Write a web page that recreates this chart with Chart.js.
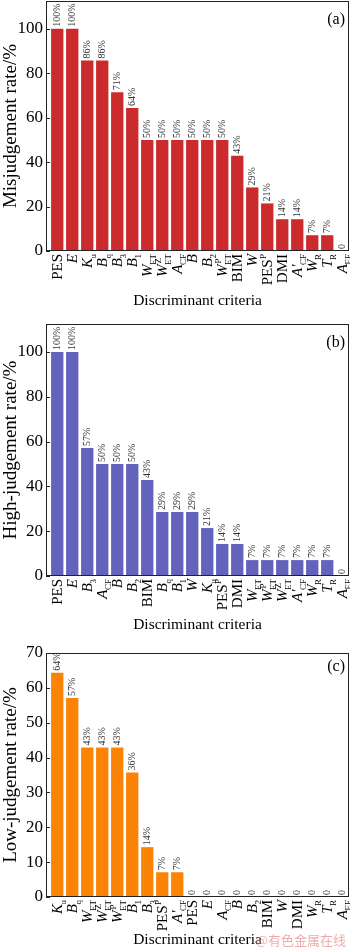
<!DOCTYPE html>
<html>
<head>
<meta charset="utf-8">
<script src="https://cdn.jsdelivr.net/npm/chart.js@4.4.1/dist/chart.umd.min.js"></script>
<style>
html, body { margin: 0; padding: 0; background: #fff; }
#wrap { position: relative; width: 350px; height: 950px; }
#wrap canvas { position: absolute; left: 0; top: 0; }
</style>
</head>
<body>
<div id="wrap">
  <canvas id="chartA" width="350" height="950"></canvas>
  <canvas id="chartB" width="350" height="950"></canvas>
  <canvas id="chartC" width="350" height="950"></canvas>
</div>
<script>
var SERIF = '"Liberation Serif", "Times New Roman", serif';

// (a) misjudgement
var misCats = ['PES', 'E', 'K_u', 'B_q', 'B_3', 'B_1', 'W_ET', 'W^Z_ET', 'A_CF', 'B', 'B_2', 'W^P_ET',
               'BIM', 'W', 'PES^P', 'DMI', "A'_CF", 'W_R', 'T_R', 'A_EF'];
var misVals = [100, 100, 85.7, 85.7, 71.4, 64.3, 50, 50, 50, 50, 50, 50, 42.9, 28.6, 21.4, 14.3, 14.3, 7.1, 7.1, 0];
var misTicks = [0, 20, 40, 60, 80, 100];

// (b) high-judgement
var highCats = ['PES', 'E', 'B_3', 'A_CF', 'B', 'B_2', 'BIM', 'B_q', 'B_1', 'W', 'K_u', 'PES^P', 'DMI',
                'W_ET', 'W^P_ET', 'W^Z_ET', "A'_CF", 'W_R', 'T_R', 'A_EF'];
var highVals = [100, 100, 57.1, 50, 50, 50, 42.9, 28.6, 28.6, 28.6, 21.4, 14.3, 14.3, 7.1, 7.1, 7.1, 7.1, 7.1, 7.1, 0];
var highTicks = [0, 20, 40, 60, 80, 100];

// (c) low-judgement
var lowCats = ['K_u', 'B_q', 'W_ET', 'W^Z_ET', 'W^P_ET', 'B_1', 'B_3', 'PES^P', "A'_CF", 'PES', 'E', 'A_CF',
               'B', 'B_2', 'BIM', 'W', 'DMI', 'W_R', 'T_R', 'A_EF'];
var lowVals = [64.3, 57.1, 42.9, 42.9, 42.9, 35.7, 14.3, 7.1, 7.1, 0, 0, 0, 0, 0, 0, 0, 0, 0, 0, 0];
var lowTicks = [0, 10, 20, 30, 40, 50, 60, 70];

function parseLabel(s) {
    var m = s.match(/^([^_^]+)(?:\^([^_]+))?(?:_(.+))?$/);
    return { base: m[1], sup: m[2] || '', sub: m[3] || '' };
}

// rotated label with italic symbol + sub/superscript, end of text at y0
function drawRich(ctx, s, x, y0, fs) {
    var p = parseLabel(s);
    var italic = /^[A-Z]'?$/.test(p.base);
    var baseFont = (italic ? 'italic ' : '') + fs + 'px ' + SERIF;
    var smallFont = Math.round(fs * 0.62) + 'px ' + SERIF;
    ctx.font = baseFont;
    var wb = ctx.measureText(p.base).width;
    ctx.font = smallFont;
    var ws = Math.max(ctx.measureText(p.sup).width, ctx.measureText(p.sub).width);
    var gap = italic ? -0.5 : 0.5;
    var w = wb + (ws ? ws + gap : 0);
    var bl = fs * 0.33;
    ctx.save();
    ctx.translate(x, y0);
    ctx.rotate(-Math.PI / 2);
    ctx.textAlign = 'left';
    ctx.textBaseline = 'alphabetic';
    ctx.font = baseFont;
    ctx.fillText(p.base, -w, bl);
    ctx.font = smallFont;
    if (p.sup) ctx.fillText(p.sup, -w + wb + gap + (italic ? 1.5 : 0), bl - fs * 0.42);
    if (p.sub) ctx.fillText(p.sub, -w + wb + gap, bl + fs * 0.24);
    ctx.restore();
}

var decoPlugin = {
    id: 'deco',
    afterDraw: function (chart, args, opts) {
        var ctx = chart.ctx;
        var ca = chart.chartArea;
        var ys = chart.scales.y;
        ctx.save();
        ctx.fillStyle = '#000';
        ctx.strokeStyle = '#222';
        ctx.lineWidth = 1;
        ctx.strokeRect(ca.left + 0.5, ca.top + 0.5, ca.right - ca.left - 1, ca.bottom - ca.top - 1);
        // inward tick marks
        ys.ticks.forEach(function (t) {
            var y = Math.round(ys.getPixelForValue(t.value)) + 0.5;
            ctx.beginPath();
            ctx.moveTo(ca.left, y);
            ctx.lineTo(ca.left + 4, y);
            ctx.stroke();
        });
        // value labels over bars
        var meta = chart.getDatasetMeta(0);
        var vals = chart.data.datasets[0].data;
        ctx.fillStyle = '#333';
        ctx.font = '10px ' + SERIF;
        ctx.textAlign = 'left';
        ctx.textBaseline = 'middle';
        meta.data.forEach(function (bar, i) {
            var v = vals[i].y;
            var txt = v === 0 ? '0' : Math.round(v) + '%';
            ctx.save();
            ctx.translate(bar.x + 0.5, bar.y - 2);
            ctx.rotate(-Math.PI / 2);
            ctx.fillText(txt, 0, 0);
            ctx.restore();
        });
        // category labels
        ctx.fillStyle = '#000';
        opts.cats.forEach(function (c, i) {
            drawRich(ctx, c, chart.scales.x.getPixelForValue(i), ca.bottom + 3, 15);
        });
        // axis titles
        ctx.font = '15.5px ' + SERIF;
        ctx.textAlign = 'center';
        ctx.textBaseline = 'middle';
        ctx.fillText('Discriminant criteria', (ca.left + ca.right) / 2, opts.xTitleY);
        ctx.save();
        ctx.translate(11, (ca.top + ca.bottom) / 2);
        ctx.rotate(-Math.PI / 2);
        ctx.font = '19px ' + SERIF;
        ctx.fillText(opts.yTitle, 0, 0);
        ctx.restore();
        // panel tag
        ctx.font = '16px ' + SERIF;
        ctx.textAlign = 'right';
        ctx.fillText(opts.tag, ca.right - 4, ca.top + opts.tagDy);
        if (opts.mark) {
            ctx.font = '13px "Noto Sans CJK SC", sans-serif';
            ctx.fillStyle = 'rgba(235, 150, 150, 0.8)';
            ctx.textAlign = 'right';
            ctx.fillText(opts.mark, 346, 940);
        }
        ctx.restore();
    }
};

function makePanel(id, cats, vals, ticks, color, yMax, top, bottom, yTitle, tag, xTitleY, tagDy, mark) {
    return new Chart(document.getElementById(id).getContext('2d'), {
        type: 'bar',
        data: {
            datasets: [{
                data: vals.map(function (v, i) { return { x: i, y: v }; }),
                backgroundColor: color,
                borderWidth: 0,
                categoryPercentage: 1,
                barPercentage: 0.82
            }]
        },
        options: {
            responsive: false,
            animation: false,
            layout: { padding: { top: top, right: 1, left: 0, bottom: 0 } },
            plugins: {
                legend: { display: false },
                tooltip: { enabled: false },
                deco: { cats: cats, yTitle: yTitle, tag: tag, xTitleY: xTitleY, tagDy: tagDy, mark: mark }
            },
            scales: {
                x: {
                    type: 'linear',
                    min: -0.75,
                    max: 19.45,
                    offset: false,
                    grid: { display: false, drawTicks: false },
                    border: { display: false },
                    ticks: { display: false },
                    afterFit: function (s) { s.height = 950 - bottom; s.paddingLeft = 0; s.paddingRight = 0; }
                },
                y: {
                    min: 0,
                    max: yMax,
                    grid: { display: false, drawTicks: false },
                    border: { display: false },
                    afterBuildTicks: function (s) { s.ticks = ticks.map(function (t) { return { value: t }; }); },
                    ticks: { color: '#000', padding: 3, font: { family: SERIF, size: 17 } },
                    afterFit: function (s) { s.width = 46; s.paddingTop = 0; s.paddingBottom = 0; }
                }
            }
        },
        plugins: [decoPlugin]
    });
}

makePanel('chartA', misCats, misVals, misTicks, '#cc2b2e', 112.5, 1, 251, 'Misjudgement rate/%', '(a)', 301, 19, '');
makePanel('chartB', highCats, highVals, highTicks, '#6363bb', 112.5, 324, 576, 'High-judgement rate/%', '(b)', 625, 19, '');
makePanel('chartC', lowCats, lowVals, lowTicks, '#fb8306', 70, 653, 897, 'Low-judgement rate/%', '(c)', 940, 14, '@有色金属在线');
</script>
</body>
</html>
